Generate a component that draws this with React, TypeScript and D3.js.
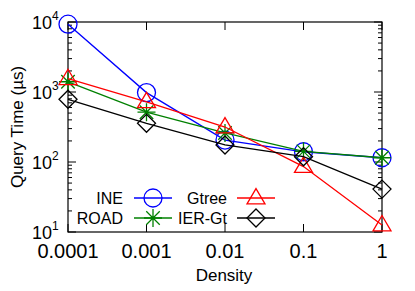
import React from "react";
import * as d3 from "d3";

const densities = [0.0001, 0.001, 0.01, 0.1, 1];
const xTickLabels = ["0.0001", "0.001", "0.01", "0.1", "1"];
const yTickExps = [1, 2, 3, 4];
const ineValues = [9300, 980, 206, 140, 115];
const roadValues = [1400, 515, 260, 142, 115];
const gtreeValues = [1550, 725, 316, 86, 12.6];
const iergtValues = [787, 357, 175, 119, 41];

const W = 415;
const H = 291;
const margin = { left: 68, right: 33, top: 22, bottom: 59 };
const FONT = "'Liberation Sans', Arial, Helvetica, sans-serif";

type Series = { name: string; color: string; marker: string; values: number[] };
const series: Series[] = [
  { name: "INE", color: "#0000ff", marker: "circle", values: ineValues },
  { name: "ROAD", color: "#008000", marker: "star", values: roadValues },
  { name: "Gtree", color: "#ff0000", marker: "triangle", values: gtreeValues },
  { name: "IER-Gt", color: "#000000", marker: "diamond", values: iergtValues },
];

function Marker({ type, x, y, color }: { type: string; x: number; y: number; color: string }) {
  const s = 9;
  if (type === "circle") return <circle cx={x} cy={y} r={s} fill="none" stroke={color} strokeWidth={1.3} />;
  if (type === "triangle")
    return (
      <path
        d={`M${x},${y - s * 1.05} L${x + s},${y + s * 0.65} L${x - s},${y + s * 0.65} Z`}
        fill="none"
        stroke={color}
        strokeWidth={1.3}
      />
    );
  if (type === "diamond")
    return (
      <path d={`M${x},${y - s} L${x + s},${y} L${x},${y + s} L${x - s},${y} Z`} fill="none" stroke={color} strokeWidth={1.3} />
    );
  const d = s * 0.75;
  return (
    <path
      d={`M${x - s},${y} L${x + s},${y} M${x},${y - s} L${x},${y + s} M${x - d},${y - d} L${x + d},${y + d} M${x - d},${y + d} L${x + d},${y - d}`}
      stroke={color}
      strokeWidth={1.3}
    />
  );
}

export default function App() {
  const x = d3.scaleLog().domain([0.0001, 1]).range([margin.left, W - margin.right]);
  const y = d3.scaleLog().domain([10, 10000]).range([H - margin.bottom, margin.top]);
  const x0 = margin.left, x1 = W - margin.right, y0 = H - margin.bottom, y1 = margin.top;

  const minor: number[] = [];
  for (let e = 1; e < 4; e++) for (let m = 2; m <= 9; m++) minor.push(m * Math.pow(10, e));

  const line = d3
    .line<number>()
    .x((_, i) => x(densities[i]))
    .y((v) => y(v));

  const legendRows = [
    { s: series[0], tx: 123, lx0: 134, lx1: 172, ly: 198 },
    { s: series[1], tx: 123, lx0: 134, lx1: 172, ly: 218 },
    { s: series[2], tx: 227, lx0: 237, lx1: 275, ly: 198 },
    { s: series[3], tx: 227, lx0: 237, lx1: 275, ly: 218 },
  ];

  return (
    <svg width={W} height={H} style={{ display: "block", position: "absolute", left: 0, top: 0 }} fontFamily={FONT}>
      <rect x={0} y={0} width={W} height={H} fill="#fff" />
      {/* ticks */}
      {yTickExps.map((e) => {
        const yy = y(Math.pow(10, e));
        return (
          <g key={"yt" + e}>
            <line x1={x0} x2={x0 + 8} y1={yy} y2={yy} stroke="#000" />
            <line x1={x1} x2={x1 - 8} y1={yy} y2={yy} stroke="#000" />
            <text x={52} y={yy + 7} fontSize={18} textAnchor="end">10</text>
            <text x={52} y={yy - 2} fontSize={12}>{e}</text>
          </g>
        );
      })}
      {minor.map((v) => (
        <g key={"ym" + v}>
          <line x1={x0} x2={x0 + 4} y1={y(v)} y2={y(v)} stroke="#000" />
          <line x1={x1} x2={x1 - 4} y1={y(v)} y2={y(v)} stroke="#000" />
        </g>
      ))}
      {densities.map((d, i) => (
        <g key={"xt" + i}>
          <line x1={x(d)} x2={x(d)} y1={y0} y2={y0 - 8} stroke="#000" />
          <line x1={x(d)} x2={x(d)} y1={y1} y2={y1 + 8} stroke="#000" />
          <text x={x(d)} y={258} fontSize={20} textAnchor="middle">{xTickLabels[i]}</text>
        </g>
      ))}
      <rect x={x0} y={y1} width={x1 - x0} height={y0 - y1} fill="none" stroke="#000" strokeWidth={1.2} />
      {/* series */}
      {series.map((s) => (
        <g key={s.name}>
          <path d={line(s.values) || ""} fill="none" stroke={s.color} strokeWidth={1.3} />
          {s.values.map((v, i) => (
            <Marker key={i} type={s.marker} x={x(densities[i])} y={y(v)} color={s.color} />
          ))}
        </g>
      ))}
      {/* legend */}
      {legendRows.map((r) => (
        <g key={"lg" + r.s.name}>
          <text x={r.tx} y={r.ly + 6} fontSize={16} textAnchor="end">{r.s.name}</text>
          <line x1={r.lx0} x2={r.lx1} y1={r.ly} y2={r.ly} stroke={r.s.color} strokeWidth={1.3} />
          <Marker type={r.s.marker} x={(r.lx0 + r.lx1) / 2} y={r.ly} color={r.s.color} />
        </g>
      ))}
      <text x={224} y={281} fontSize={17} textAnchor="middle">Density</text>
      <text transform={`translate(23,${(y0 + y1) / 2}) rotate(-90)`} fontSize={17} textAnchor="middle">
        Query Time (µs)
      </text>
    </svg>
  );
}
